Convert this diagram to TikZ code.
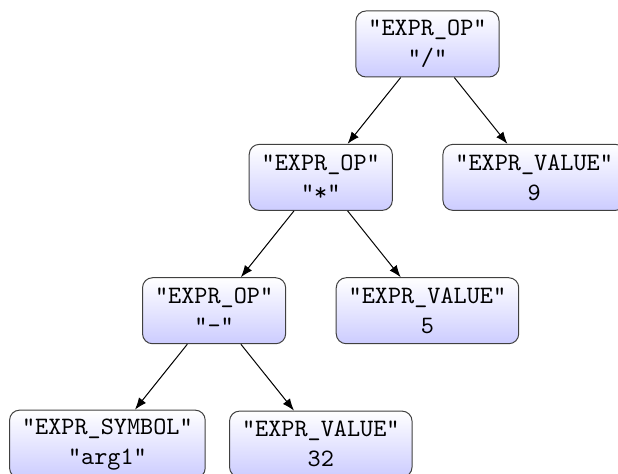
\documentclass[tikz,border=0pt]{standalone}
\usepackage{tikz}
\usetikzlibrary{arrows.meta,positioning}

\begin{document}
\begin{tikzpicture}[>=Latex,on grid,node distance=18.75mm and 15mm,
  ast/.style={draw=black!75,rounded corners,top color=white,bottom color=blue!20,font=\ttfamily,align=center,minimum height=26.4pt,inner xsep=5pt}]
\useasboundingbox (-171pt,17.6pt) rectangle (76.2pt,-172pt);
\node[ast] (div) {"EXPR\_OP"\\"/"};
\node[ast,below left=of div] (mul) {"EXPR\_OP"\\"*"};
\node[ast,below right=of div] (nine) {"EXPR\_VALUE"\\9};
\node[ast,below left=of mul] (sub) {"EXPR\_OP"\\"-"};
\node[ast,below right=of mul] (five) {"EXPR\_VALUE"\\5};
\node[ast,below left=of sub] (arg) {"EXPR\_SYMBOL"\\"arg1"};
\node[ast,below right=of sub] (tt) {"EXPR\_VALUE"\\32};
\draw[->] (div)--(mul);\draw[->] (div)--(nine);
\draw[->] (mul)--(sub);\draw[->] (mul)--(five);
\draw[->] (sub)--(arg);\draw[->] (sub)--(tt);
\end{tikzpicture}
\end{document}
